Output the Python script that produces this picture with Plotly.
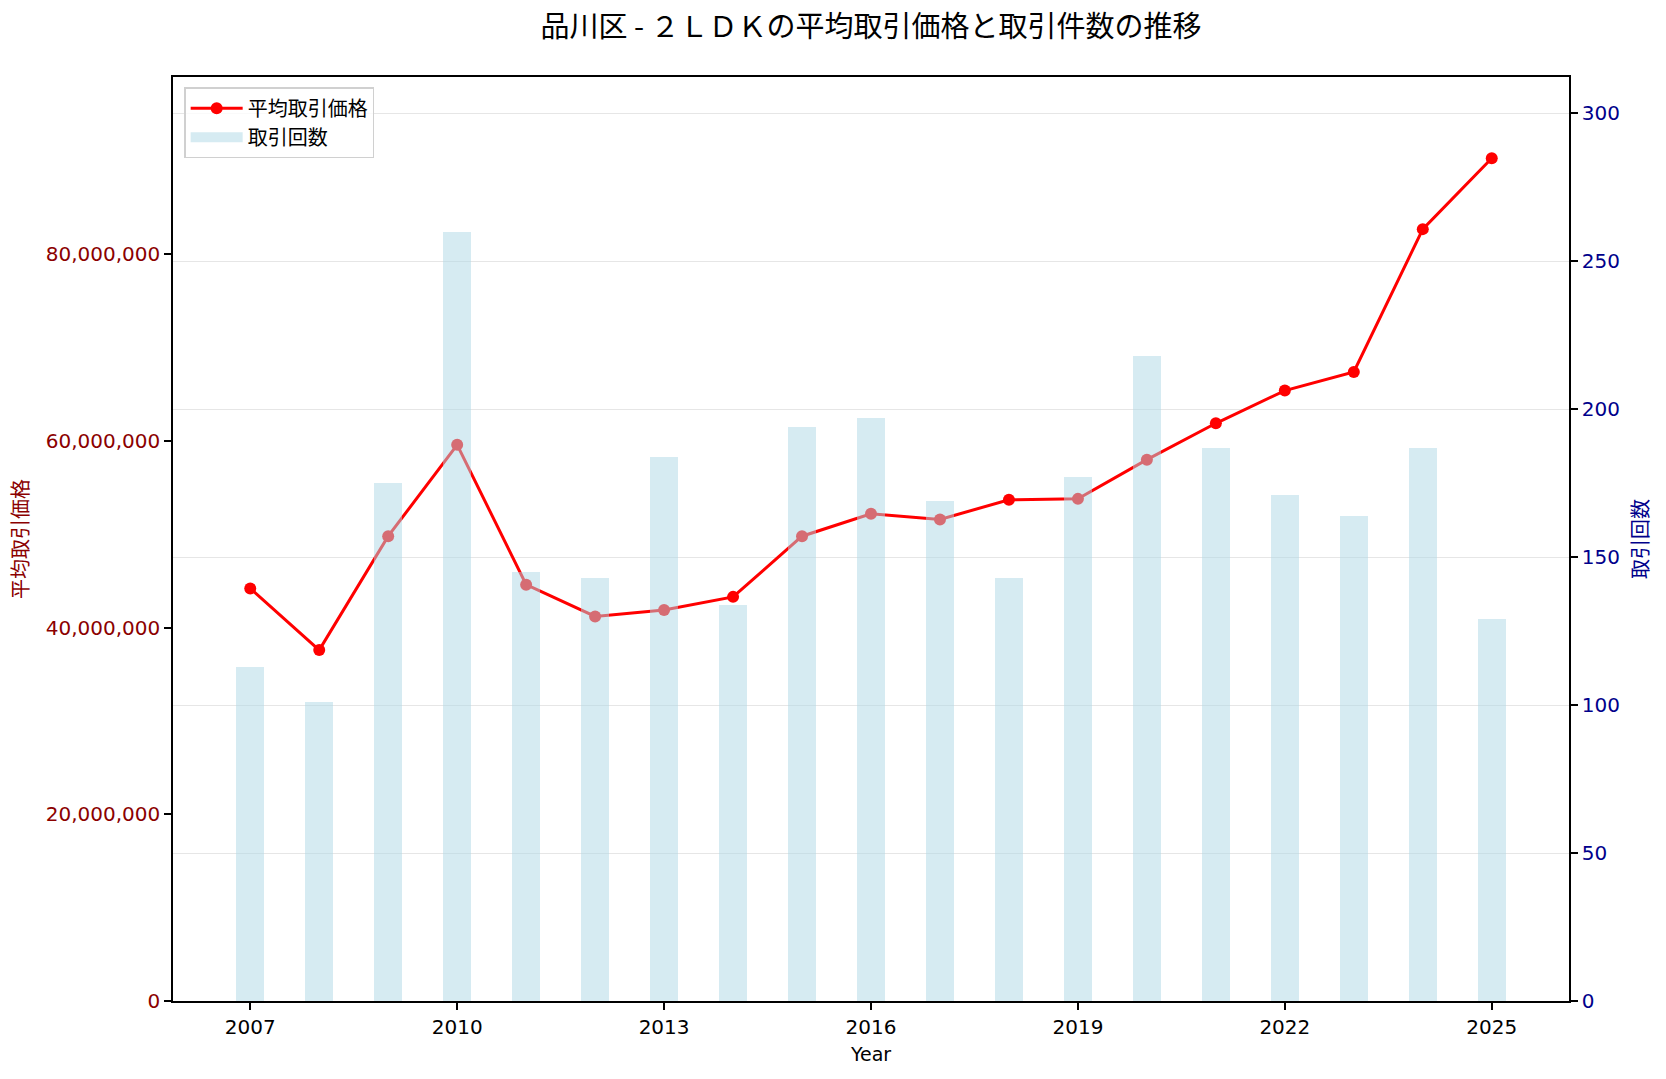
import plotly.graph_objects as go

years = list(range(2007, 2026))
avg_price = [44.2e6, 37.6e6, 49.8e6, 59.6e6, 44.6e6, 41.2e6, 41.9e6, 43.3e6, 49.8e6,
             52.2e6, 51.6e6, 53.7e6, 53.8e6, 58.0e6, 61.9e6, 65.4e6, 67.4e6, 82.7e6, 90.3e6]
counts = [113, 101, 175, 260, 145, 143, 184, 134, 194, 197, 169, 143, 177, 218, 187, 171, 164, 187, 129]
x_ticks = [2007, 2010, 2013, 2016, 2019, 2022, 2025]

FONT = "DejaVu Sans, Noto Sans CJK JP"
CJK = "Noto Sans CJK JP"
BAR_COLOR = "rgba(173,216,230,0.5)"

fig = go.Figure()
fig.add_trace(go.Scatter(
    x=years, y=avg_price, name="平均取引価格", mode="lines+markers",
    line=dict(color="red", width=3), marker=dict(color="red", size=12),
    yaxis="y", xaxis="x",
))
fig.add_trace(go.Bar(
    x=years, y=counts, name="取引回数", width=0.4, showlegend=False,
    marker=dict(color=BAR_COLOR, line=dict(width=0)),
    yaxis="y2", xaxis="x",
))
# legend swatch for the bars (wide rectangle like the reference)
fig.add_trace(go.Scatter(
    x=[None], y=[None], name="取引回数", mode="lines",
    line=dict(color=BAR_COLOR, width=13), yaxis="y2", xaxis="x",
))

fig.update_layout(
    width=1666, height=1079,
    paper_bgcolor="white", plot_bgcolor="white",
    margin=dict(l=173, r=97, t=77, b=78),
    font=dict(family=FONT, size=20, color="black"),
    title=dict(text="品川区 - ２ＬＤＫの平均取引価格と取引件数の推移",
               xref="paper", x=0.5, xanchor="center", y=0.9754, yanchor="middle",
               font=dict(size=29, family=CJK, color="black")),
    showlegend=True,
    legend=dict(x=0.008, y=0.989, xanchor="left", yanchor="top",
                bgcolor="rgba(255,255,255,0.8)", bordercolor="#d0d0d0", borderwidth=1.5,
                font=dict(size=20, family=CJK), traceorder="normal", itemwidth=52,
                tracegroupgap=2),
    bargap=0,
    xaxis=dict(
        range=[2005.88, 2026.12], tickmode="array", tickvals=x_ticks,
        ticktext=[str(v) for v in x_ticks],
        showgrid=False, zeroline=False,
        showline=True, linecolor="black", linewidth=1.5, mirror=True,
        ticks="outside", ticklen=7, tickcolor="black", tickwidth=1.5,
        tickfont=dict(size=20, color="black", family=FONT),
        title=dict(text="Year", font=dict(size=19, family=FONT), standoff=10),
    ),
    yaxis=dict(
        range=[0, 99.0e6], tickmode="array",
        tickvals=[0, 20e6, 40e6, 60e6, 80e6],
        ticktext=["0", "20,000,000", "40,000,000", "60,000,000", "80,000,000"],
        showgrid=False, zeroline=False,
        showline=True, linecolor="black", linewidth=1.5,
        ticks="outside", ticklen=7, tickcolor="black", tickwidth=1.5,
        tickfont=dict(size=20, color="#8B0000", family=FONT),
        title=dict(text="平均取引価格", font=dict(size=20, color="#8B0000", family=CJK), standoff=12),
    ),
    yaxis2=dict(
        range=[0, 312.3], overlaying="y", side="right", tickmode="array",
        tickvals=[0, 50, 100, 150, 200, 250, 300],
        showgrid=True, gridcolor="rgba(200,200,200,0.45)", gridwidth=1.2, zeroline=False,
        showline=True, linecolor="black", linewidth=1.5,
        ticks="outside", ticklen=7, tickcolor="black", tickwidth=1.5,
        tickfont=dict(size=20, color="#00008B", family=FONT),
        title=dict(text="取引回数", font=dict(size=20, color="#00008B", family=CJK), standoff=15),
    ),
)

fig.write_html("out.html")
